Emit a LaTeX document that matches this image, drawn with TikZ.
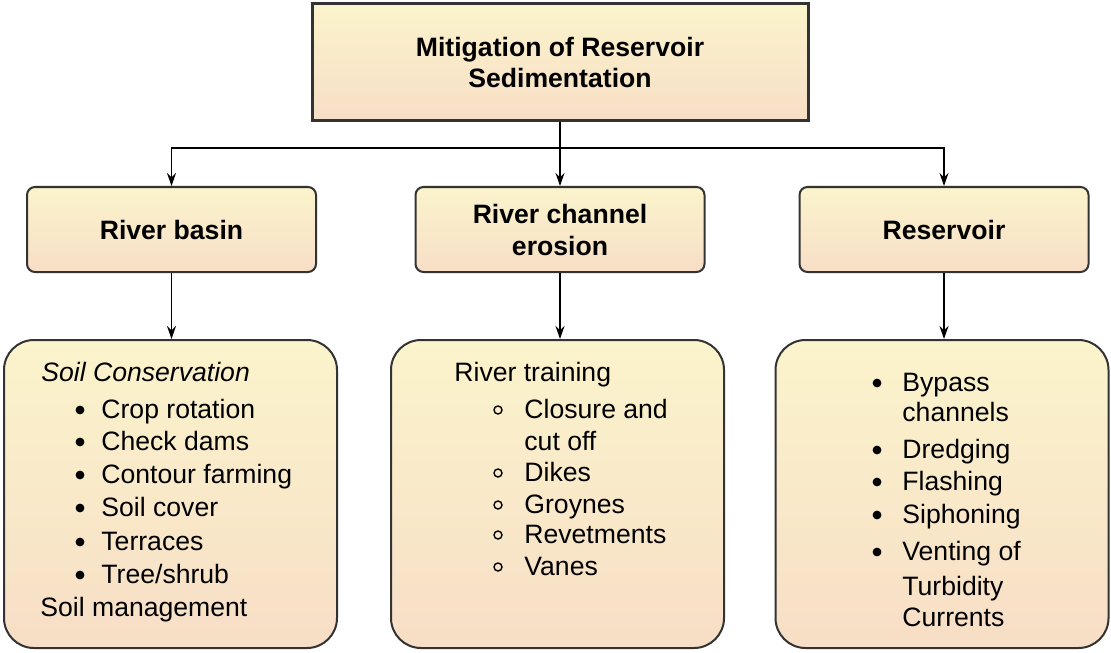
\documentclass[tikz,border=0pt]{standalone}
\usepackage{fontspec}
\setmainfont{Liberation Sans}
\usepackage{tikz}
\usetikzlibrary{arrows.meta,shapes}
\definecolor{boxtop}{HTML}{FBF4CC}
\definecolor{boxbottom}{HTML}{F7DEC6}
\definecolor{boxline}{HTML}{333333}
\tikzstyle{sandfill}=[top color=boxtop, bottom color=boxbottom]
\tikzstyle{headbox}=[sandfill, draw=boxline, line width=1.5pt, minimum width=248pt, minimum height=58.5pt, align=center, font=\bfseries\fontsize{13.3}{15.5}\selectfont]
\tikzstyle{sourcebox}=[sandfill, draw=boxline, line width=1pt, rounded corners=4pt, minimum width=144.5pt, minimum height=42.5pt, align=center, font=\bfseries\fontsize{13.3}{16}\selectfont]
\tikzstyle{measurebox}=[sandfill, draw=boxline, line width=1pt, rounded corners=15pt, minimum width=166.5pt, minimum height=154pt]
\tikzstyle{itemtext}=[anchor=base west, inner sep=0pt, font=\fontsize{13.3}{16}\selectfont]
\tikzstyle{feed}=[line width=0.7pt, -{Stealth[length=6.5pt,width=4.5pt]}]
\newcommand{\dotitem}[5]{
	\fill (#2,-#4+8) circle (2.2pt);
	\node[itemtext] (#1) at (#3,-#4) {#5};
}
\newcommand{\ringitem}[5]{
	\draw[line width=0.7pt] (#2,-#4+8) circle (2pt);
	\node[itemtext] (#1) at (#3,-#4) {#5};
}
\begin{document}
\begin{tikzpicture}[x=0.5pt,y=0.5pt]
	\useasboundingbox (0,0) rectangle (1111,-652);
	\node[headbox] (mitig) at (560,-62) {Mitigation of Reservoir\\Sedimentation};
	\node[sourcebox] (basin) at (171.5,-229.5) {River basin};
	\node[sourcebox] (channel) at (560,-229.5) {River channel\\erosion};
	\node[sourcebox] (reserv) at (944,-229.5) {Reservoir};
	\node[measurebox] (basinm) at (170.5,-494) {};
	\node[measurebox] (channelm) at (557.5,-494) {};
	\node[measurebox] (reservm) at (942,-494) {};
	\coordinate (split) at (560,-148);
	\draw[line width=0.7pt] (mitig.south) -- (split);
	\draw[feed] (split) -| (basin.north);
	\draw[feed] (split) -- (channel.north);
	\draw[feed] (split) -| (reserv.north);
	\draw[feed] (basin.south) -- (basin.south |- basinm.north);
	\draw[feed] (channel.south) -- (channel.south |- channelm.north);
	\draw[feed] (reserv.south) -- (reserv.south |- reservm.north);
	\node[itemtext, font=\itshape\fontsize{13.3}{16}\selectfont] (soilcons) at (41,-381) {Soil Conservation};
	\dotitem{crop}{80}{101}{418}{Crop rotation}
	\dotitem{check}{80}{101}{450}{Check dams}
	\dotitem{contour}{80}{101}{483}{Contour farming}
	\dotitem{cover}{80}{101}{516}{Soil cover}
	\dotitem{terrace}{80}{101}{550}{Terraces}
	\dotitem{tree}{80}{101}{583}{Tree/shrub}
	\node[itemtext] (soilman) at (40,-616) {Soil management};
	\node[itemtext] (training) at (454,-381) {River training};
	\ringitem{closure}{498}{524}{418}{Closure and}
	\node[itemtext] (cutoff) at (524,-450) {cut off};
	\ringitem{dikes}{498}{524}{481}{Dikes}
	\ringitem{groynes}{498}{524}{513}{Groynes}
	\ringitem{revet}{498}{524}{543}{Revetments}
	\ringitem{vanes}{498}{524}{575}{Vanes}
	\dotitem{bypass}{877}{902}{391}{Bypass}
	\node[itemtext] (bychan) at (902,-421) {channels};
	\dotitem{dredge}{877}{902}{458}{Dredging}
	\dotitem{flash}{877}{902}{490}{Flashing}
	\dotitem{siphon}{877}{902}{523}{Siphoning}
	\dotitem{venting}{877}{902}{560}{Venting of}
	\node[itemtext] (turbid) at (902,-595) {Turbidity};
	\node[itemtext] (currents) at (902,-626) {Currents};
\end{tikzpicture}
\end{document}
